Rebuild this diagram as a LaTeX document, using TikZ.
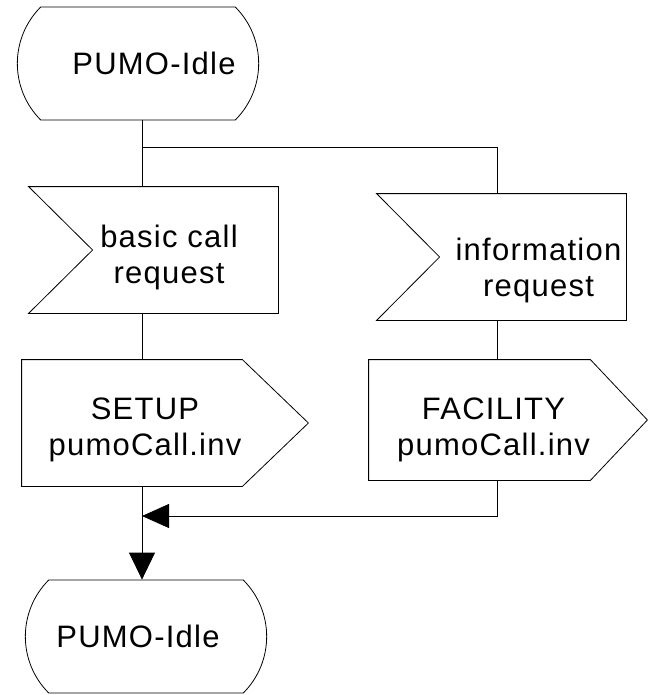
\documentclass[tikz,border=0pt]{standalone}
\usepackage{fontspec}
\setmainfont{Liberation Sans}[LetterSpace=4]
\usetikzlibrary{arrows.meta}
\usetikzlibrary{shapes}
\tikzset{%
  sdl state/.style={
    rounded rectangle,
    rounded rectangle arc length=90,
    draw,
    minimum width=248pt,
    minimum height=113pt
  },
  sdl box/.style={
    rectangle,
    inner sep=0pt,
    minimum height=126pt
  },
  every label/.style={align=center},
}
% outline of an input signal: notch on the west side
\newcommand{\sdlinput}[2]{%
  \draw (#1.north west)--(#1.north east)--(#1.south east)
    --(#1.south west)--([xshift=#2]#1.west)--cycle;}
% outline of an output signal: point on the east side
\newcommand{\sdloutput}[2]{%
  \draw (#1.north west)--([xshift=-#2]#1.north east)--(#1.east)
    --([xshift=-#2]#1.south east)--(#1.south west)--cycle;}

\begin{document}
\begin{tikzpicture}[x=1pt,y=-1pt,line width=0.8pt,
    font=\fontsize{31}{36}\selectfont]
    \useasboundingbox (0,0) rectangle (647,695);

    \node (a) [sdl state,label={[xshift=16pt]center:PUMO-Idle}] 
    at (138,63.5) {};
    \node (b) [sdl box,minimum width=249pt,label={[xshift=15.5pt,yshift=-7pt]center:basic call\\request}] 
    at (153.5,250) {};
    \node (c) [sdl box,minimum width=286pt,label={[xshift=-20pt,yshift=-7pt]center:SETUP\\pumoCall.inv}] 
    at (165,423) {};
    \node (d) [sdl box,minimum width=249pt,label={[xshift=37pt,yshift=-13pt]center:information\\request}] 
    at (501.5,257) {};
    \node (e) [sdl box,minimum width=278pt,minimum height=120pt,label={[xshift=-14.5pt,yshift=-10pt]center:FACILITY\\pumoCall.inv}] 
    at (508,420) {};
    \node (f) [sdl state,label={[xshift=-8pt]center:PUMO-Idle}] 
    at (146,636.5) {};

    \sdlinput{b}{64pt}
    \sdloutput{c}{66pt}
    \sdlinput{d}{63pt}
    \sdloutput{e}{57pt}

    \coordinate (t) at (142,0);
    \coordinate (s) at (497,147);
    \coordinate (j) at (497,516);

    \draw   (t |- a.south)--(t |- b.north);
    \draw   (t |- s)--(s)--(s |- d.north);
    \draw   (t |- b.south)--(t |- c.north);
    \draw   (s |- d.south)--(s |- e.north);
    \draw   [-{Triangle[length=27pt,width=26pt]}] (t |- c.south)--(t |- f.north);
    \draw   [-{Triangle[length=27pt,width=24pt]}] (s |- e.south)--(j)--(t |- j);
\end{tikzpicture}
\end{document}
